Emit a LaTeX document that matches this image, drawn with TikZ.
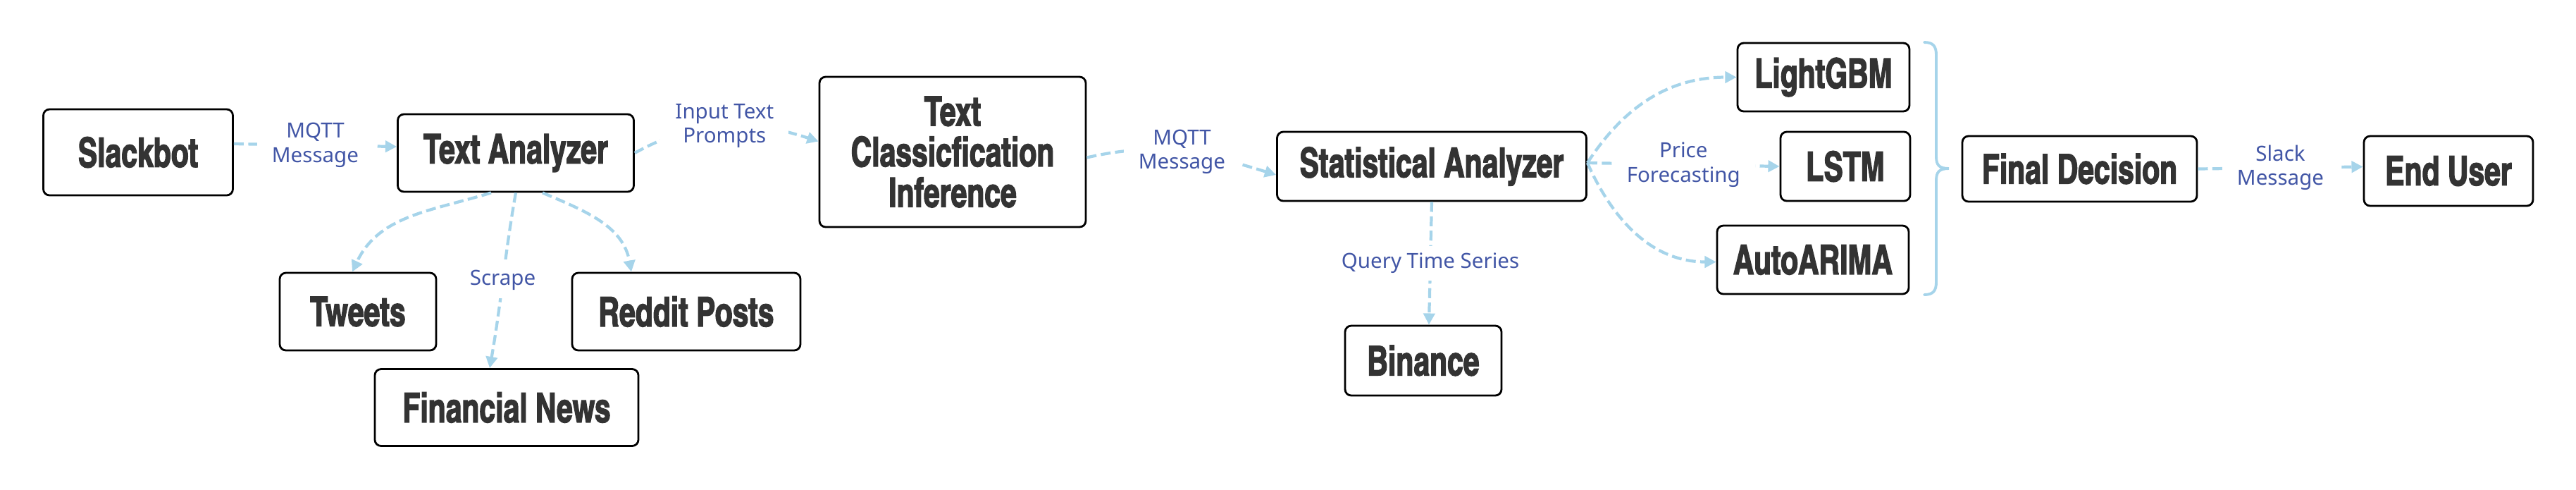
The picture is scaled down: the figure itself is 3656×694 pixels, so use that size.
\documentclass[tikz,border=0pt]{standalone}
\usepackage{fontspec}
\newfontfamily\boxfont[FakeBold=2.2,FakeStretch=0.86]{texgyreheroscn-bold.otf}
\newfontfamily\lblfont{Noto Sans}
\usetikzlibrary{arrows.meta}
\newlength\pxu
\setlength\pxu{0.2845pt}
\definecolor{boxtext}{HTML}{333333}
\definecolor{lblblue}{RGB}{66,86,166}
\definecolor{arrowblue}{RGB}{166,212,234}
\tikzset{
  box/.style={draw=black, line width=0.8pt, rounded corners=2.5pt, fill=white, align=center,
    text=boxtext, font=\boxfont\fontsize{16.5}{16.4}\selectfont, inner sep=0pt},
  lbl/.style={fill=white, text=lblblue, font=\lblfont\fontsize{8.4}{9.8}\selectfont,
    align=center, inner xsep=6pt, inner ysep=3pt},
  flow/.style={draw=arrowblue, line width=1.2pt, dash pattern=on 4pt off 1.8pt,
    -{Triangle[length=4.6pt,width=4.6pt]}},
  bracestyle/.style={draw=arrowblue, line width=1.1pt, line cap=round},
}
\begin{document}
\begin{tikzpicture}[x=0.2845pt, y=0.2845pt]
\useasboundingbox (0,0) rectangle (3656,-694);
% boxes
\node[box, minimum width=269\pxu, minimum height=122\pxu] (slack) at (196,-216) {Slackbot};
\node[box, minimum width=335\pxu, minimum height=110\pxu] (ta) at (732,-217) {Text Analyzer};
\node[box, minimum width=222\pxu, minimum height=110\pxu] (tweets) at (508,-442) {Tweets};
\node[box, minimum width=324\pxu, minimum height=110\pxu] (reddit) at (974,-442) {Reddit Posts};
\node[box, minimum width=374\pxu, minimum height=109\pxu] (fnews) at (719,-578) {Financial News};
\node[box, minimum width=378\pxu, minimum height=213\pxu] (tc) at (1352,-215.5) {Text\\Classicfication\\Inference};
\node[box, minimum width=439\pxu, minimum height=98\pxu] (sa) at (2032,-236) {Statistical Analyzer};
\node[box, minimum width=222\pxu, minimum height=99\pxu] (binance) at (2020,-511.5) {Binance};
\node[box, minimum width=244\pxu, minimum height=97\pxu] (lgbm) at (2588,-109.5) {LightGBM};
\node[box, minimum width=184\pxu, minimum height=98\pxu] (lstm) at (2619,-236) {LSTM};
\node[box, minimum width=272\pxu, minimum height=97\pxu] (arima) at (2573,-368.5) {AutoARIMA};
\node[box, minimum width=333\pxu, minimum height=93\pxu] (fd) at (2951.5,-239.5) {Final Decision};
\node[box, minimum width=240\pxu, minimum height=99\pxu] (eu) at (3475,-242.5) {End User};
% connectors
\draw[flow] ([yshift=12\pxu]slack.east) -- node[lbl]{MQTT\\Message} ([yshift=9\pxu]ta.west);
\draw[flow] (ta.east) to[out=29,in=162] node[lbl]{Input Text\\Prompts} ([yshift=15\pxu]tc.west);
\draw[flow] ([xshift=-35\pxu]ta.south) to[out=197,in=65] ([xshift=-8\pxu]tweets.north);
\draw[flow] (ta.south) to[out=-100,in=80] node[lbl, inner xsep=3pt]{Scrape} ([xshift=-24\pxu]fnews.north);
\draw[flow] ([xshift=38\pxu]ta.south) to[out=-23,in=100] ([xshift=-78\pxu]reddit.north);
\draw[flow] ([yshift=-8\pxu]tc.east) to[out=13,in=163] node[lbl]{MQTT\\Message} ([yshift=-12\pxu]sa.west);
\draw[flow] (sa.south) -- node[lbl, inner xsep=3pt]{Query Time Series} ([xshift=8\pxu]binance.north);
\draw[flow] ([yshift=5\pxu]sa.east) to[out=57,in=180] (lgbm.west);
\draw[flow] ([yshift=5\pxu]sa.east) -- node[lbl]{Price\\Forecasting} (lstm.west);
\draw[flow] ([yshift=5\pxu]sa.east) to[out=-66,in=180] ([yshift=-3\pxu]arima.west);
\draw[flow] (fd.east) -- node[lbl]{Slack\\Message} ([yshift=6\pxu]eu.west);
% brace
\draw[bracestyle] (2731,-60) .. controls (2744,-60) and (2748,-66) .. (2748,-78)
  -- (2748,-222) .. controls (2748,-234) and (2752,-239) .. (2766,-239)
  .. controls (2752,-239) and (2748,-244) .. (2748,-256)
  -- (2748,-400) .. controls (2748,-412) and (2744,-418) .. (2731,-418);
\end{tikzpicture}
\end{document}
